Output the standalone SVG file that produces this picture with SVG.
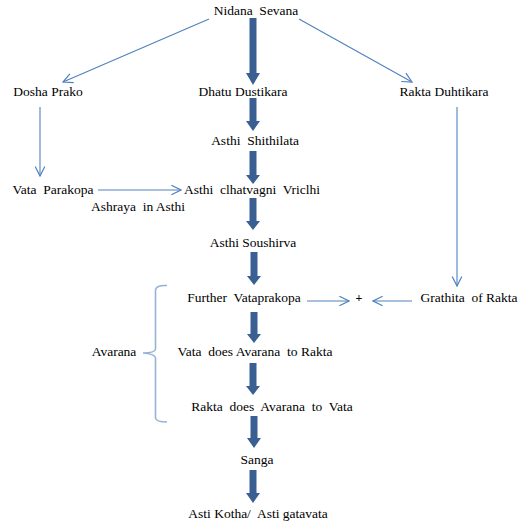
<svg xmlns="http://www.w3.org/2000/svg" width="523" height="526" viewBox="0 0 523 526">
<style>
text{font-family:"Liberation Serif","DejaVu Serif",serif;font-size:13.5px;fill:#000;text-anchor:middle;white-space:pre}
.thin{stroke:#4f81bd;stroke-width:1.1;fill:none}
.fat{fill:#3a5f93}
</style>
<defs>
<marker id="open" viewBox="0 0 10 10" refX="9" refY="5" markerWidth="12" markerHeight="12" markerUnits="userSpaceOnUse" orient="auto">
<path d="M1,1 L9,5 L1,9" fill="none" stroke="#4f81bd" stroke-width="1"/>
</marker>
</defs>
<rect width="523" height="526" fill="#fff"/>
<g id="connectors">
<line class="thin" x1="209" y1="19" x2="63" y2="82" marker-end="url(#open)"/>
<line class="thin" x1="299" y1="19" x2="412" y2="82" marker-end="url(#open)"/>
<line class="thin" x1="40" y1="107" x2="40" y2="176" marker-end="url(#open)"/>
<line class="thin" x1="457" y1="107" x2="457" y2="286" marker-end="url(#open)"/>
<line class="thin" x1="98" y1="190" x2="181" y2="190" marker-end="url(#open)"/>
<line class="thin" x1="307" y1="301" x2="349" y2="301" marker-end="url(#open)"/>
<line class="thin" x1="412" y1="301" x2="373" y2="301" marker-end="url(#open)"/>
<path class="fat" d="M249.5,18 H256.5 V73 H260 L253,85 L246,73 H249.5 Z"/>
<path class="fat" d="M249.5,98 H256.5 V121 H260 L253,131 L246,121 H249.5 Z"/>
<path class="fat" d="M249.5,151 H256.5 V175 H260 L253,184 L246,175 H249.5 Z"/>
<path class="fat" d="M249.5,198 H256.5 V221 H260 L253,230 L246,221 H249.5 Z"/>
<path class="fat" d="M250.5,252 H257.5 V276 H261 L254,285 L247,276 H250.5 Z"/>
<path class="fat" d="M250.5,312 H257.5 V334 H261 L254,343 L247,334 H250.5 Z"/>
<path class="fat" d="M249.5,363 H256.5 V386 H260 L253,395 L246,386 H249.5 Z"/>
<path class="fat" d="M250.5,416 H257.5 V438 H261 L254,448 L247,438 H250.5 Z"/>
<path class="fat" d="M249.5,470 H256.5 V493 H260 L253,503 L246,493 H249.5 Z"/>
<path d="M167,285.5 Q156,285 155.5,290 V349 Q155,353 143,353 Q155,354 155.5,358 V418 Q156,422 167,422" fill="none" stroke="#95b3d7" stroke-width="1.6"/>
</g>
<g id="n-nidana"><text x="256" y="15">Nidana  Sevana</text></g>
<g id="n-dosha"><text x="48" y="96">Dosha Prako</text></g>
<g id="n-dhatu"><text x="243" y="96">Dhatu Dustikara</text></g>
<g id="n-rakta"><text x="444" y="96">Rakta Duhtikara</text></g>
<g id="n-shithilata"><text x="255" y="145">Asthi  Shithilata</text></g>
<g id="n-vata"><text x="53" y="194">Vata  Parakopa</text></g>
<g id="n-vriclhi"><text x="252" y="194">Asthi  clhatvagni  Vriclhi</text></g>
<g id="l-ashraya"><text x="138" y="211">Ashraya  in Asthi</text></g>
<g id="n-soushirva"><text x="253" y="247">Asthi Soushirva</text></g>
<g id="n-further"><text x="244" y="302">Further  Vataprakopa</text></g>
<g id="n-plus"><text x="359" y="302" style="font-size:12px;font-weight:bold">+</text></g>
<g id="n-grathita"><text x="469" y="302">Grathita  of Rakta</text></g>
<g id="l-avarana"><text x="114" y="356">Avarana</text></g>
<g id="n-vata-avarana"><text x="255" y="356">Vata  does Avarana  to Rakta</text></g>
<g id="n-rakta-avarana"><text x="272" y="411">Rakta  does  Avarana  to  Vata</text></g>
<g id="n-sanga"><text x="257" y="464">Sanga</text></g>
<g id="n-asti"><text x="258" y="518">Asti Kotha/  Asti gatavata</text></g>
</svg>
